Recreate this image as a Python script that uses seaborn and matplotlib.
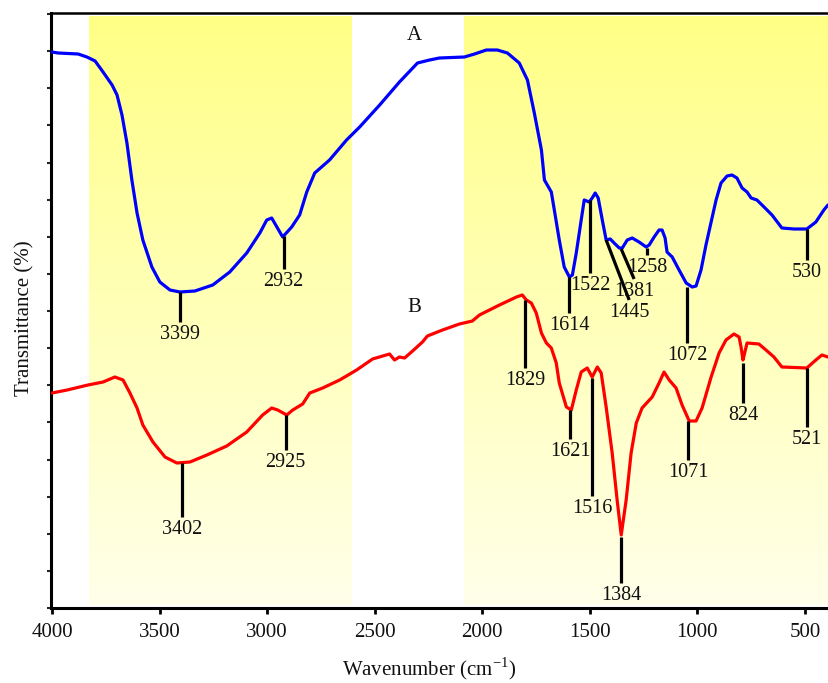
import numpy as np
import pandas as pd
import matplotlib
matplotlib.use("Agg")
import matplotlib.pyplot as plt
import seaborn as sns
from matplotlib.colors import LinearSegmentedColormap

# ---------------- data ----------------
# Spectrum A (blue)
wn_a = [4000, 3972, 3879, 3838, 3800, 3763, 3721, 3698, 3675, 3652, 3629, 3605, 3578,
        3536, 3499, 3452, 3406, 3336, 3253, 3174, 3095, 3034, 3002, 2979, 2928, 2886,
        2849, 2816, 2779, 2710, 2631, 2570, 2477, 2385, 2301, 2245, 2199, 2083, 2036,
        1981, 1930, 1883, 1828, 1790, 1758, 1725, 1711, 1679, 1665, 1642, 1619, 1595,
        1581, 1563, 1540, 1526, 1503, 1489, 1475, 1461, 1442, 1424, 1405, 1387, 1363,
        1349, 1326, 1303, 1271, 1238, 1224, 1201, 1178, 1164, 1150, 1141, 1117, 1085,
        1052, 1024, 1006, 983, 960, 936, 913, 890, 862, 839, 816, 792, 769, 750, 723,
        690, 653, 607, 551, 491, 449, 412, 393]
tr_a = [556, 555, 554, 551, 547, 536, 523, 513, 493, 465, 428, 395, 368,
        341, 326, 318, 316, 317, 323, 336, 355, 375, 388, 390, 371, 381,
        393, 416, 435, 448, 468, 481, 503, 526, 545, 548, 550, 551, 554,
        558, 558, 555, 545, 528, 495, 458, 428, 416, 398, 368, 341, 331,
        333, 355, 388, 408, 406, 410, 415, 410, 388, 368, 369, 365, 360,
        360, 368, 370, 366, 361, 363, 371, 378, 378, 370, 356, 351, 338,
        325, 321, 322, 338, 363, 386, 408, 425, 432, 433, 430, 420, 416, 410, 408,
        401, 393, 380, 379, 379, 386, 398, 403]

# Spectrum B (red)
wn_b = [4000, 3930, 3833, 3763, 3708, 3670, 3638, 3605, 3578, 3531, 3475, 3420, 3359,
        3280, 3188, 3095, 3021, 2979, 2951, 2909, 2881, 2835, 2802, 2742, 2663, 2584,
        2510, 2431, 2408, 2385, 2361, 2324, 2278, 2255, 2185, 2106, 2046, 2013, 1920,
        1841, 1814, 1795, 1772, 1749, 1725, 1702, 1679, 1656, 1642, 1609, 1586, 1563,
        1540, 1512, 1489, 1465, 1447, 1424, 1396, 1373, 1354, 1331, 1308, 1284, 1257,
        1210, 1178, 1155, 1131, 1099, 1071, 1038, 1006, 978, 936, 899, 867, 830, 806,
        797, 788, 779, 769, 714, 681, 644, 607, 491, 449, 421, 393]
tr_b = [215, 218, 223, 226, 231, 228, 215, 200, 183, 166, 151, 145, 146,
        153, 162, 176, 193, 200, 198, 193, 198, 204, 215, 220, 228, 238,
        249, 254, 248, 251, 250, 257, 266, 272, 278, 284, 287, 293, 303,
        311, 313, 308, 305, 295, 275, 265, 260, 245, 225, 201, 198, 218,
        236, 240, 231, 241, 235, 201, 155, 108, 73, 108, 155, 185, 200,
        211, 225, 236, 228, 220, 203, 187, 187, 200, 231, 255, 268, 274, 271,
        261, 248, 256, 265, 264, 258, 251, 241, 240, 248, 253, 251]

# Peak assignments: label, marker top (x, y), marker bottom (x, y)
peak_a_labels = ["3399", "2932", "1614", "1522", "1445", "1381", "1258", "1072", "530"]
peak_a_x1 = [3406, 2923, 1595, 1498, 1424, 1354, 1233, 1048, 491]
peak_a_y1 = [316, 372, 331, 408, 368, 359, 360, 321, 379]
peak_a_x2 = [3406, 2923, 1595, 1498, 1317, 1294, 1233, 1048, 491]
peak_a_y2 = [286, 339, 295, 335, 308, 329, 353, 265, 348]

peak_b_labels = ["3402", "2925", "1829", "1621", "1516", "1384", "1071", "824", "521"]
peak_b_x1 = [3397, 2914, 1800, 1591, 1489, 1354, 1043, 788, 491]
peak_b_y1 = [145, 193, 308, 198, 230, 71, 187, 245, 240]
peak_b_x2 = [3397, 2914, 1800, 1591, 1489, 1354, 1043, 788, 491]
peak_b_y2 = [91, 158, 240, 169, 112, 25, 148, 205, 181]

# highlighted wavenumber regions
band_start = [3828, 2087]
band_end = [2609, 388]

x_ticks = [4000, 3500, 3000, 2500, 2000, 1500, 1000, 500]
curve_names = ["A", "B"]
curve_label_x = [2315, 2315]
curve_label_y = [573, 300]

# ---------------- style ----------------
sns.set_theme(style="white")
plt.rcParams["font.family"] = ["Liberation Serif", "DejaVu Serif"]
plt.rcParams["mathtext.fontset"] = "custom"
plt.rcParams["mathtext.rm"] = "Liberation Serif"

fig = plt.figure(figsize=(8.29, 6.83), dpi=100)
ax = fig.add_axes([51 / 829, 75 / 683, 778 / 829, 595 / 683])

YMAX = 595
# gradient bands
cmap = LinearSegmentedColormap.from_list("yel", ["#FFFFEA", "#FFFF86"])
grad = np.linspace(0, 1, 256).reshape(-1, 1)
for s, e in zip(band_start, band_end):
    ax.imshow(grad, cmap=cmap, origin="lower", aspect="auto",
              extent=[s, e, 3, 592], zorder=0, interpolation="bilinear")

df_a = pd.DataFrame({"wn": wn_a, "tr": tr_a})
df_b = pd.DataFrame({"wn": wn_b, "tr": tr_b})
sns.lineplot(data=df_a, x="wn", y="tr", color="#0000FF", linewidth=2.3, ax=ax,
             sort=False, zorder=3)
sns.lineplot(data=df_b, x="wn", y="tr", color="#FF0000", linewidth=2.3, ax=ax,
             sort=False, zorder=3)

def draw_peaks(labels, x1, y1, x2, y2):
    for lab, a, b, c, d in zip(labels, x1, y1, x2, y2):
        ax.plot([a, c], [b, d], color="black", linewidth=2.3, zorder=4,
                solid_capstyle="butt")
        ax.annotate(lab, xy=(c, d), xytext=(0, -2), textcoords="offset points",
                    ha="center", va="top", fontsize=14.5, color="#111111", zorder=5)

draw_peaks(peak_a_labels, peak_a_x1, peak_a_y1, peak_a_x2, peak_a_y2)
draw_peaks(peak_b_labels, peak_b_x1, peak_b_y1, peak_b_x2, peak_b_y2)

for n, x, y in zip(curve_names, curve_label_x, curve_label_y):
    ax.text(x, y, n, ha="center", va="center", fontsize=15, color="#111111")

ax.set_xlim(4005, 388)
ax.set_ylim(0, YMAX)
ax.set_xticks(x_ticks)
ax.set_xticklabels([str(t) for t in x_ticks])
ax.set_yticks(np.arange(17) * 37.125)
ax.set_yticklabels([])
ax.tick_params(axis="x", direction="out", length=4, width=2, pad=7,
               labelsize=15, colors="black", bottom=True)
ax.tick_params(axis="y", direction="out", length=3, width=1.5, left=True)
for t in ax.get_xticklabels():
    t.set_color("#111111")

ax.spines["right"].set_visible(False)
ax.spines["left"].set_linewidth(2.2)
ax.spines["bottom"].set_linewidth(2.2)
ax.spines["top"].set_linewidth(1.8)
for sp in ["left", "bottom", "top"]:
    ax.spines[sp].set_color("black")

ax.set_xlabel("Wavenumber (cm$^{\\mathregular{-1}}$)", fontsize=15, color="#111111")
ax.xaxis.set_label_coords((429 - 51) / 778, -0.080)
ax.set_ylabel("Transmittance (%)", fontsize=15, color="#111111")
ax.yaxis.set_label_coords(-0.021, 0.487)

fig.savefig("out.png", dpi=100)
